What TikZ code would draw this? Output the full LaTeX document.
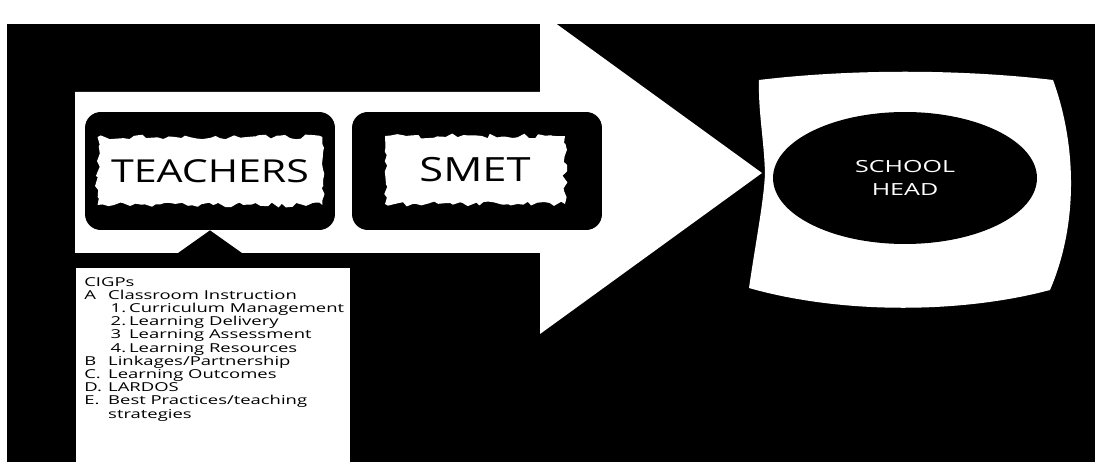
\documentclass[tikz,border=0pt]{standalone}
\usepackage{fontspec}
\setmainfont{Open Sans}
\newfontfamily\boxfont[FakeStretch=1.3]{Open Sans}
\newfontfamily\listfont[FakeStretch=1.5]{Open Sans}
\usepackage{tikz}
\usetikzlibrary{shapes.geometric, arrows.meta, positioning, decorations.pathmorphing}
\pgfmathsetseed{7}
\tikzset{
  panelbox/.style={rectangle, fill=black, minimum width=5cm,
    minimum height=2.36cm, rounded corners=9pt},
  tornlabel/.style={rectangle, fill=white, minimum width=4.5cm,
    minimum height=1.36cm, inner sep=0pt, font=\boxfont\fontsize{18}{20}\selectfont,
    decorate, decoration={random steps, segment length=3pt, amplitude=1.4pt}},
  headellipse/.style={ellipse, fill=black, text=white, minimum width=5.28cm,
    minimum height=2.64cm, align=center, font=\listfont\fontsize{9.5}{13.6}\selectfont},
  listbox/.style={rectangle, fill=white, minimum width=5.48cm,
    minimum height=4.2cm, inner sep=0pt},
  listtext/.style={align=left, inner sep=0pt, font=\listfont\fontsize{7}{7.5}\selectfont},
  uparrow/.style={-{Triangle[width=36pt, length=13pt]}, line width=24pt, color=black}
}
\newcommand{\lbl}[1]{\makebox[13.6pt][l]{#1}}
\newcommand{\sublbl}[1]{\hspace*{15pt}\makebox[10.5pt][l]{#1}}

\begin{document}
\begin{tikzpicture}[x=0.02cm, y=-0.02cm]
  % Page and dark panel
  \useasboundingbox[fill=white] (0,0) rectangle (1095,462);
  \fill[black] (7,24) rectangle (1095,462);

  % Big arrow
  \fill[white] (75,92) -- (540,92) -- (540,12) -- (762,173) -- (540,334)
    -- (540,253) -- (75,253) -- cycle;

  % Wavy frame
  \fill[white] (759,80) .. controls (850,69) and (960,69) .. (1053,80)
    .. controls (1075,140) and (1080,220) .. (1050,290)
    .. controls (960,314) and (840,314) .. (749,288)
    .. controls (756,240) and (764,200) .. (765,173)
    .. controls (764,140) and (758,110) .. (759,80) -- cycle;

  % Nodes
  \node[panelbox] (tbox) at (210,171) {};
  \node[tornlabel] (teachers) at (tbox.center) {TEACHERS};
  \node[panelbox] (sbox) at (477,171) {};
  \node[tornlabel, minimum width=3.6cm, font=\boxfont\fontsize{19}{20}\selectfont] (smet) at (475,170) {SMET};
  \node[headellipse] (head) at (905,178) {SCHOOL\\HEAD};

  % CIGPs list
  \node[listbox, anchor=north west] (cigps) at (76,268) {};
  \node[listtext, anchor=north west] (items) at (84,277) {CIGPs\\
    \lbl{A}Classroom Instruction\\
    \sublbl{1.}Curriculum Management\\
    \sublbl{2.}Learning Delivery\\
    \sublbl{3}Learning Assessment\\
    \sublbl{4.}Learning Resources\\
    \lbl{B}Linkages/Partnership\\
    \lbl{C.}Learning Outcomes\\
    \lbl{D.}LARDOS\\
    \lbl{E.}Best Practices/teaching\\
    \lbl{}strategies};

  % Connections
  \draw[uparrow] (cigps.north -| tbox.south) -- (tbox.south);
\end{tikzpicture}
\end{document}
